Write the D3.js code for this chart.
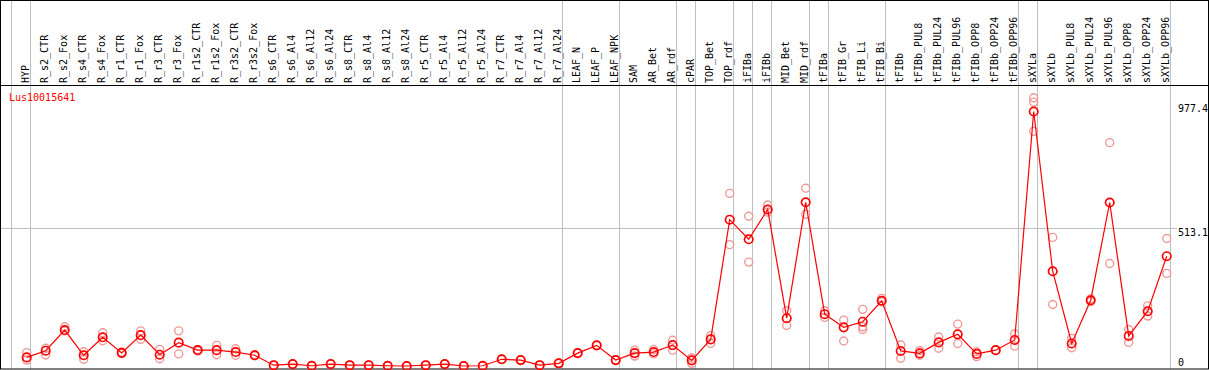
<!DOCTYPE html>
<html>
<head>
<meta charset="utf-8">
<script src="https://cdn.jsdelivr.net/npm/d3@7"></script>
<style>
  body { margin: 0; background: #fff; }
  svg { display: block; font-family: "DejaVu Sans Mono", monospace; font-size: 10px; }
</style>
</head>
<body>
<div id="chart"></div>
<script>
const geneName = "Lus10015641";

const categories = ["HYP", "R_s2_CTR", "R_s2_Fox", "R_s4_CTR", "R_s4_Fox", "R_r1_CTR", "R_r1_Fox",
  "R_r3_CTR", "R_r3_Fox", "R_r1s2_CTR", "R_r1s2_Fox", "R_r3s2_CTR", "R_r3s2_Fox", "R_s6_CTR",
  "R_s6_Al4", "R_s6_Al12", "R_s6_Al24", "R_s8_CTR", "R_s8_Al4", "R_s8_Al12", "R_s8_Al24",
  "R_r5_CTR", "R_r5_Al4", "R_r5_Al12", "R_r5_Al24", "R_r7_CTR", "R_r7_Al4", "R_r7_Al12",
  "R_r7_Al24", "LEAF_N", "LEAF_P", "LEAF_NPK", "SAM", "AR_Bet", "AR_rdf", "cPAR", "TOP_Bet",
  "TOP_rdf", "iFIBa", "iFIBb", "MID_Bet", "MID_rdf", "tFIBa", "tFIB_Gr", "tFIB_Li", "tFIB_Bi",
  "tFIBb", "tFIBb_PUL8", "tFIBb_PUL24", "tFIBb_PUL96", "tFIBb_OPP8", "tFIBb_OPP24", "tFIBb_OPP96",
  "sXYLa", "sXYLb", "sXYLb_PUL8", "sXYLb_PUL24", "sXYLb_PUL96", "sXYLb_OPP8", "sXYLb_OPP24",
  "sXYLb_OPP96"];

// mean expression per sample
const means = [32, 57, 134, 40, 107, 49, 115, 42, 87, 59, 59, 52, 40, 3,
  7, 1, 7, 3, 3, 1, 0, 3, 7, 0, 1, 25, 22, 3, 10,
  48, 77, 22, 48, 52, 78, 21, 99, 545, 472, 583, 178, 610,
  193, 144, 165, 243, 56, 47, 88, 118, 45, 59, 97,
  948, 353, 84, 245, 609, 112, 204, 409];

// replicate values per sample
const replicates = [[50, 22], [66, 41], [146, 131], [53, 25], [124, 94], [51, 47], [131, 99],
  [62, 27], [131, 45], [61, 57], [77, 42], [64, 40], [42, 38], [3, 3],
  [7, 7], [1, 1], [7, 7], [3, 3], [3, 3], [1, 1], [0, 0], [3, 3], [7, 7], [0, 0], [1, 1],
  [25, 25], [22, 22], [3, 3], [10, 10],
  [48, 48], [77, 77], [22, 22], [59, 37], [61, 45], [96, 59], [30, 10], [113, 84],
  [643, 452], [558, 387], [600, 573], [206, 151], [662, 565],
  [206, 181], [171, 93], [211, 146, 136], [252, 239], [78, 29], [57, 40], [108, 66],
  [156, 84], [53, 35], [59, 59], [119, 74],
  [999, 983, 874], [479, 229], [103, 68], [250, 240], [832, 382], [136, 88], [224, 186],
  [475, 345]];

// a grey divider stands before each of these samples
const groupStarts = ["HYP", "R_s2_CTR", "LEAF_N", "SAM", "cPAR", "TOP_Bet", "iFIBa", "iFIBb",
  "MID_Bet", "tFIBa", "tFIB_Gr", "tFIBb", "sXYLa", "sXYLb"];

const yLabels = [977.4, 513.1, 0];

const width = 1209, height = 370;

const svg = d3.select("#chart").append("svg")
  .attr("width", width)
  .attr("height", height);

const x = d3.scaleBand().domain(categories).range([11.5, 1170.5]);
const y = d3.scaleLinear().domain([0, 1043]).range([366, 86]);
const px = (c) => x(c) + 15.2;

// grey dividers
svg.selectAll("line.div")
  .data(groupStarts)
  .join("line")
  .attr("class", "div")
  .attr("x1", (d) => Math.round(x(d)) - 0.5)
  .attr("x2", (d) => Math.round(x(d)) - 0.5)
  .attr("y1", 1)
  .attr("y2", 369)
  .attr("stroke", "#c0c0c0");

svg.append("line")
  .attr("x1", 1170.5).attr("x2", 1170.5)
  .attr("y1", 1).attr("y2", 369)
  .attr("stroke", "#c0c0c0");

// mid grid line
svg.append("line")
  .attr("x1", 1).attr("x2", 1177)
  .attr("y1", Math.round(y(513.1)) + 0.5)
  .attr("y2", Math.round(y(513.1)) + 0.5)
  .attr("stroke", "#c0c0c0");

// frame and header separator
svg.append("rect")
  .attr("x", 0.5).attr("y", 0.5)
  .attr("width", 1208).attr("height", 368.5)
  .attr("fill", "none")
  .attr("stroke", "#000");

svg.append("line")
  .attr("x1", 0).attr("x2", 1209)
  .attr("y1", 85.5).attr("y2", 85.5)
  .attr("stroke", "#000");

// rotated sample labels
svg.selectAll("text.cat")
  .data(categories)
  .join("text")
  .attr("class", "cat")
  .attr("transform", (d) => `translate(${px(d) + 2.6},83) rotate(-90)`)
  .attr("fill", "#000")
  .text((d) => d);

svg.append("text")
  .attr("x", 9).attr("y", 101)
  .attr("fill", "#f00")
  .text(geneName);

svg.selectAll("text.ylab")
  .data(yLabels)
  .join("text")
  .attr("class", "ylab")
  .attr("x", 1178)
  .attr("y", (d) => Math.min(y(d) + 8, 366))
  .attr("fill", "#000")
  .text((d) => d);

// replicate circles
const reps = [];
replicates.forEach((r, i) => r.forEach((v) => reps.push({ c: categories[i], v: v })));

svg.selectAll("circle.rep")
  .data(reps)
  .join("circle")
  .attr("class", "rep")
  .attr("cx", (d) => px(d.c))
  .attr("cy", (d) => y(d.v))
  .attr("r", 4)
  .attr("fill", "none")
  .attr("stroke", "#f09898")
  .attr("stroke-width", 1.4);

// mean line
const line = d3.line()
  .x((d, i) => px(categories[i]))
  .y((d) => y(d));

svg.append("path")
  .datum(means)
  .attr("d", line)
  .attr("fill", "none")
  .attr("stroke", "#f00")
  .attr("stroke-width", 1.2);

svg.selectAll("circle.mean")
  .data(means)
  .join("circle")
  .attr("class", "mean")
  .attr("cx", (d, i) => px(categories[i]))
  .attr("cy", (d) => y(d))
  .attr("r", 4.2)
  .attr("fill", "none")
  .attr("stroke", "#f00")
  .attr("stroke-width", 1.7);
</script>
</body>
</html>
